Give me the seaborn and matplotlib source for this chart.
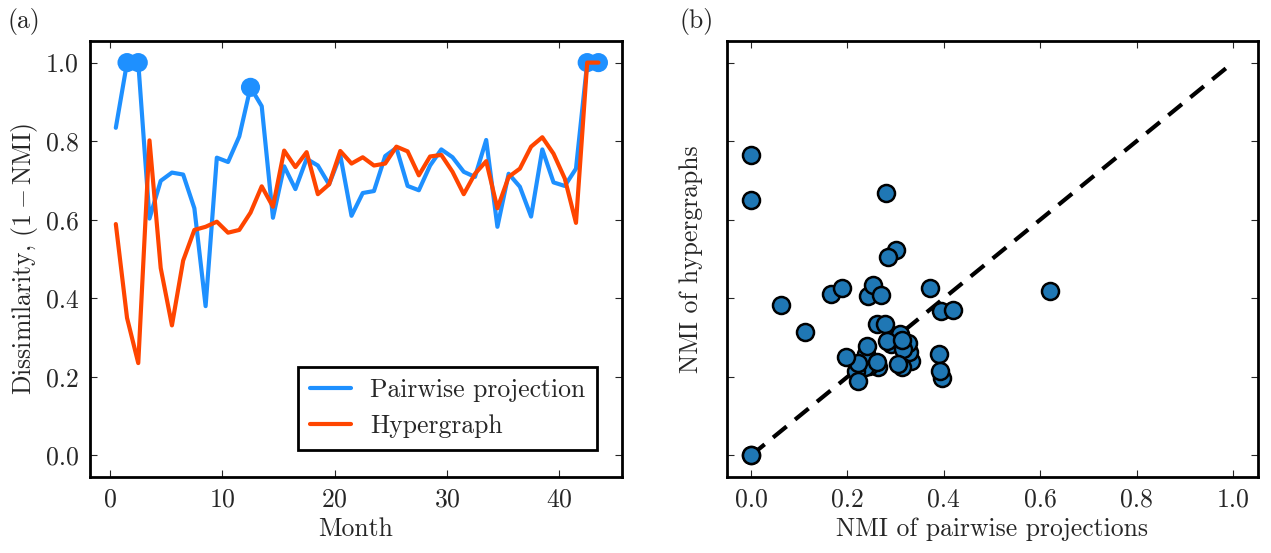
import numpy as np
import pandas as pd
import matplotlib
matplotlib.use("Agg")
import matplotlib.pyplot as plt
import seaborn as sns

# ---- data ----
months = [i + 0.5 for i in range(44)]
pairwise = [0.834, 1.000, 1.000, 0.603, 0.699, 0.720, 0.715, 0.629, 0.380, 0.758,
            0.747, 0.812, 0.937, 0.889, 0.605, 0.736, 0.678, 0.755, 0.738, 0.690,
            0.764, 0.610, 0.668, 0.673, 0.762, 0.783, 0.686, 0.675, 0.738, 0.779,
            0.759, 0.722, 0.709, 0.803, 0.582, 0.717, 0.684, 0.608, 0.779, 0.695,
            0.686, 0.730, 1.000, 1.000]
hypergraph = [0.589, 0.350, 0.235, 0.802, 0.477, 0.331, 0.496, 0.574, 0.582, 0.595,
              0.567, 0.574, 0.618, 0.685, 0.633, 0.776, 0.734, 0.772, 0.665, 0.690,
              0.775, 0.743, 0.759, 0.738, 0.743, 0.786, 0.774, 0.713, 0.761, 0.765,
              0.722, 0.665, 0.717, 0.749, 0.629, 0.709, 0.730, 0.786, 0.810, 0.768,
              0.705, 0.592, 1.000, 1.000]
highlight_idx = [1, 2, 12, 42, 43]
xticks_a = [0, 10, 20, 30, 40]
yticks = [0.0, 0.2, 0.4, 0.6, 0.8, 1.0]
xticks_b = [0.0, 0.2, 0.4, 0.6, 0.8, 1.0]

df = pd.DataFrame({"month": months, "pairwise": pairwise, "hypergraph": hypergraph})
df["nmi_pairwise"] = 1 - df["pairwise"]
df["nmi_hyper"] = 1 - df["hypergraph"]
hl = df.iloc[highlight_idx]

# ---- style ----
sns.set_style("ticks")
plt.rcParams.update({
    "font.family": "serif",
    "font.serif": ["cmr10"],
    "mathtext.fontset": "cm",
    "axes.formatter.use_mathtext": True,
    "axes.unicode_minus": False,
    "font.size": 18.5,
    "axes.linewidth": 2.0,
    "axes.edgecolor": "black",
    "xtick.direction": "in",
    "ytick.direction": "in",
    "xtick.major.size": 5,
    "ytick.major.size": 5,
    "xtick.major.width": 0.8,
    "ytick.major.width": 0.8,
    "xtick.top": True,
    "ytick.right": True,
    "xtick.major.pad": 8,
    "ytick.major.pad": 8,
})

BLUE = "#1E90FF"
ORANGE = "#FF4500"

fig = plt.figure(figsize=(12.71, 5.53), dpi=100)
axa = fig.add_axes([90 / 1271, 1 - 477 / 553, 532 / 1271, 436 / 553])
axb = fig.add_axes([727 / 1271, 1 - 477 / 553, 531 / 1271, 436 / 553])

# ---- panel (a) ----
sns.lineplot(data=df, x="month", y="pairwise", ax=axa, color=BLUE, lw=3,
             label="Pairwise projection", zorder=2)
sns.scatterplot(data=hl, x="month", y="pairwise", ax=axa, color=BLUE, s=190,
                edgecolor="none", zorder=3, legend=False)
sns.lineplot(data=df, x="month", y="hypergraph", ax=axa, color=ORANGE, lw=3,
             label="Hypergraph", zorder=4)
axa.set_xlim(-1.8, 45.6)
axa.set_ylim(-0.055, 1.055)
axa.set_xticks(xticks_a)
axa.set_yticks(yticks)
axa.set_yticklabels([f"{v:.1f}" for v in yticks])
axa.set_xlabel("Month")
axa.set_ylabel(r"Dissimilarity, $(1-\mathrm{NMI})$")
leg = axa.legend(loc="lower right", bbox_to_anchor=(0.953, 0.062), borderaxespad=0,
                 frameon=True, fancybox=False, edgecolor="black", framealpha=1,
                 handlelength=1.6, handletextpad=0.75, borderpad=0.45, labelspacing=0.5)
leg.get_frame().set_linewidth(2.0)

# ---- panel (b) ----
axb.plot([0, 1], [0, 1], ls=(0, (4.2, 2.6)), color="black", lw=3, zorder=1)
sns.scatterplot(data=df, x="nmi_pairwise", y="nmi_hyper", ax=axb, color="#1f77b4",
                s=150, edgecolor="black", linewidth=1.8, zorder=3, legend=False)
axb.set_xlim(-0.05, 1.052)
axb.set_ylim(-0.055, 1.055)
axb.set_xticks(xticks_b)
axb.set_xticklabels([f"{v:.1f}" for v in xticks_b])
axb.set_yticks(yticks)
axb.set_yticklabels([])
axb.set_xlabel("NMI of pairwise projections")
axb.set_ylabel("NMI of hypergraphs", labelpad=9)

for ax in (axa, axb):
    for sp in ax.spines.values():
        sp.set_visible(True)
        sp.set_linewidth(2.0)

fig.text(8 / 1271, 1 - 28 / 553, "(a)", fontsize=18.5)
fig.text(680 / 1271, 1 - 28 / 553, "(b)", fontsize=18.5)

fig.savefig("out.png", dpi=100)
